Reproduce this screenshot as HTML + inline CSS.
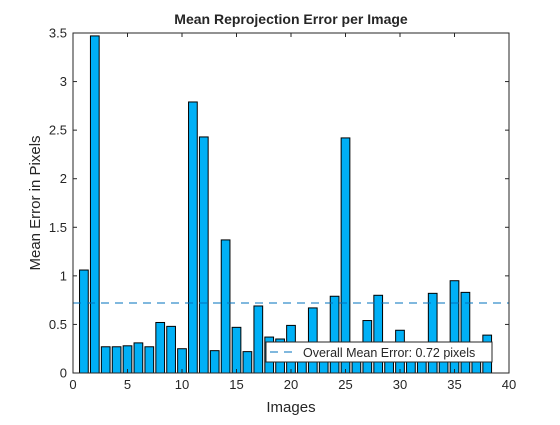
<!DOCTYPE html>
<html><head><meta charset="utf-8"><style>
body{margin:0;background:#fff}
svg text{font-family:"Liberation Sans",sans-serif;fill:#262626}
</style></head><body>
<svg id="c" width="560" height="420">
<rect width="560" height="420" fill="#fff"/>
<g id="bars"></g>
<g id="axes"></g>
</svg>
<script>
const images=[1,2,3,4,5,6,7,8,9,10,11,12,13,14,15,16,17,18,19,20,21,22,23,24,25,26,27,28,29,30,31,32,33,34,35,36,37,38];
const errors=[1.06,3.47,0.27,0.27,0.28,0.31,0.27,0.52,0.48,0.25,2.79,2.43,0.23,1.37,0.47,0.22,0.69,0.37,0.35,0.49,0.18,0.67,0.18,0.79,2.42,0.18,0.54,0.80,0.18,0.44,0.18,0.18,0.82,0.18,0.95,0.83,0.18,0.39];
const meanError=[0.72];
const xTicks=[0,5,10,15,20,25,30,35,40];
const yTicks=[0,0.5,1,1.5,2,2.5,3,3.5];
const L=73,R=509,T=33,B=373;
const X=v=>L+(v/40)*(R-L), Y=v=>B-(v/3.5)*(B-T);
const NS="http://www.w3.org/2000/svg";
function mk(tag,attrs,parent,txt){const e=document.createElementNS(NS,tag);for(const k in attrs)e.setAttribute(k,attrs[k]);if(txt!==undefined)e.textContent=txt;parent.appendChild(e);return e;}
const bars=document.getElementById('bars'),axes=document.getElementById('axes'),svg=document.getElementById('c');
images.forEach((im,i)=>{
 const r=mk('rect',{x:X(im-0.4),y:Y(errors[i]),width:X(0.8)-X(0),height:B-Y(errors[i]),fill:'#00b0f6',stroke:'#000','stroke-width':1},bars);
 
 
});
const ml=mk('line',{x1:L,x2:R,y1:Y(meanError[0]),y2:Y(meanError[0]),stroke:'#0072bd','stroke-dasharray':'8,6','stroke-width':1},bars);


const box=mk('rect',{x:L,y:T,width:R-L,height:B-T,fill:'none',stroke:'#262626','stroke-width':1},axes);


xTicks.forEach(t=>{
 mk('line',{x1:X(t),x2:X(t),y1:B,y2:B-4,stroke:'#262626'},axes);
 mk('line',{x1:X(t),x2:X(t),y1:T,y2:T+4,stroke:'#262626'},axes);
 const tx=mk('text',{x:X(t),y:B+16,'text-anchor':'middle','font-size':13},axes,String(t));
 
 
});
yTicks.forEach(t=>{
 mk('line',{x1:L,x2:L+4,y1:Y(t),y2:Y(t),stroke:'#262626'},axes);
 mk('line',{x1:R,x2:R-4,y1:Y(t),y2:Y(t),stroke:'#262626'},axes);
 const tx=mk('text',{x:L-6,y:Y(t)+4.5,'text-anchor':'end','font-size':13},axes,String(t));
 
 
});
const title=mk('text',{x:291,y:24,'text-anchor':'middle','font-size':14,'font-weight':'bold'},svg,'Mean Reprojection Error per Image');


const xl=mk('text',{x:291,y:412,'text-anchor':'middle','font-size':15},svg,'Images');


const yl=mk('text',{x:0,y:0,'text-anchor':'middle','font-size':15,transform:'translate(40,203) rotate(-90)'},svg,'Mean Error in Pixels');


const lg=mk('g',{},svg);


mk('rect',{x:266,y:342,width:226,height:20,fill:'#fff',stroke:'#262626'},lg);
mk('line',{x1:270,x2:297,y1:352,y2:352,stroke:'#0072bd','stroke-dasharray':'8,6'},lg);
const lt=mk('text',{x:303,y:357,'font-size':12.5},lg,'Overall Mean Error: 0.72 pixels');


</script>
</body></html>
